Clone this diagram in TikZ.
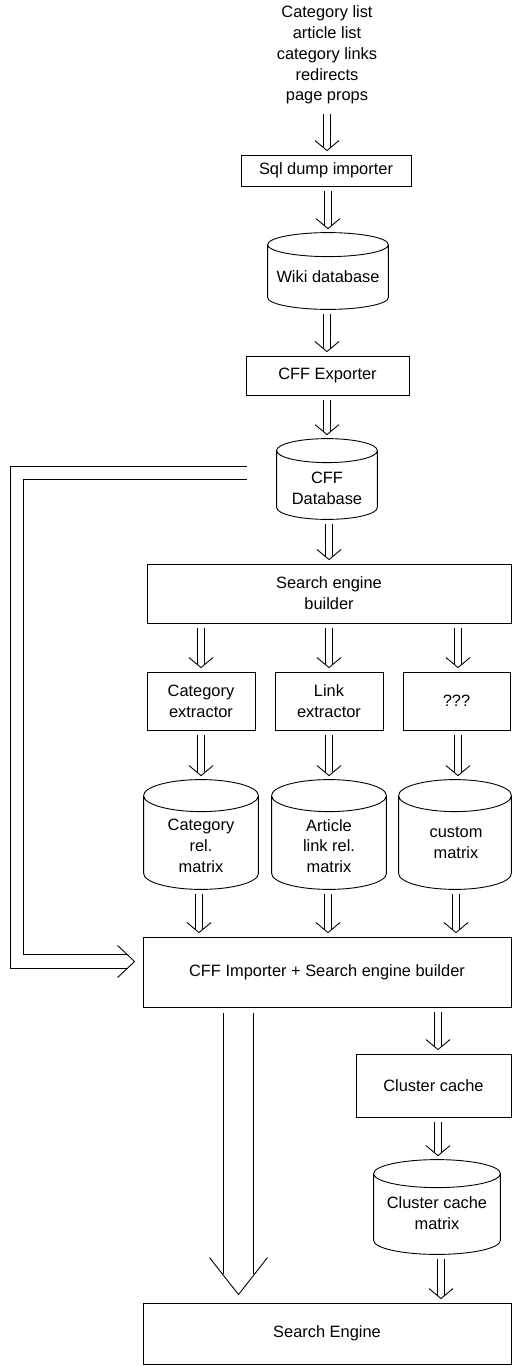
\documentclass[tikz,border=0pt]{standalone}
\usepackage{fontspec}
\setmainfont{Liberation Sans}
\usetikzlibrary{calc}

\newcommand\lbfont{\fontsize{8.2}{10.4}\selectfont}

\tikzset{
  ln/.style={draw=black, line width=0.45pt},
  shaft/.style={ln, double=white, double distance=3.05pt},
  box/.style={ln, rectangle, inner sep=0pt, align=center, font=\lbfont},
  lbl/.style={inner sep=0pt, align=center, font=\lbfont},
  hold/.style={rectangle, inner sep=0pt},
  sz/.style 2 args={minimum width=#1*0.5pt, minimum height=#2*0.5pt},
}

% database drum drawn around node #1, lid half-height #2 (px)
\newcommand\drum[2]{%
  \draw[ln] let \p1=(#1.north west), \p2=(#1.south east),
      \n1={(\x2-\x1)/2}, \n2={#2*0.5pt} in
    (\x1,\y1-\n2) -- (\x1,\y2+\n2)
      arc[start angle=180, end angle=360, x radius={\n1*1pt}, y radius={\n2*1pt}]
      -- (\x2,\y1-\n2)
    (\x1,\y1-\n2)
      arc[start angle=180, end angle=-180, x radius={\n1*1pt}, y radius={\n2*1pt}];
}

% double-shafted downward flow from node #2 to node #3 along x=#4
\newcommand\flow[4][5]{%
  \coordinate (fx) at (#4,0);
  \coordinate (fs) at ($(#2.south -| fx)+(0,-#1)$);
  \coordinate (ft) at ($(#3.north -| fx)+(0,4)$);
  \draw[shaft] (fs) -- ($(ft)+(0,3)$);
  \draw[ln] ($(ft)+(-12,10)$) -- (ft) -- ($(ft)+(12,10)$);
}

\begin{document}
\begin{tikzpicture}[x=0.5pt, y=0.5pt]
\useasboundingbox (0,0) rectangle (512,-1366);

% sources and import chain
\node[lbl] (src) at (327,-55) {Category list\\article list\\category links\\redirects\\page props};
\node[box, sz={170}{31}] (sql) at (326,-170.5) {Sql dump importer};
\node[hold, sz={120}{76}] (wiki) at (328,-271) {};
\node[lbl] (wikit) at (328,-277) {Wiki database};
\node[box, sz={163}{39}] (cffexp) at (327.5,-375.5) {CFF Exporter};
\node[hold, sz={100}{80}] (cffdb) at (327,-479) {};
\node[lbl] (cffdbt) at (327,-488) {CFF\\Database};

% search engine builder and extractors
\node[box, sz={364}{59}] (seb) at (329,-593.5) {Search engine\\builder};
\node[box, sz={108}{58}] (catx) at (201,-701) {Category\\extractor};
\node[box, sz={108}{58}] (linkx) at (329,-701) {Link\\extractor};
\node[box, sz={107}{58}] (unk) at (456.5,-701) {???};

% relation matrices
\node[hold, sz={114}{109}] (catm) at (201,-834.5) {};
\node[lbl] (catmt) at (201,-846) {Category\\rel.\\matrix};
\node[hold, sz={114}{109}] (artm) at (329,-834.5) {};
\node[lbl] (artmt) at (329,-846) {Article\\link rel.\\matrix};
\node[hold, sz={112}{109}] (cusm) at (455,-834.5) {};
\node[lbl] (cusmt) at (456,-843) {custom\\matrix};

% importer, cluster cache and search engine
\node[box, sz={368}{70}] (cffimp) at (327,-972) {CFF Importer + Search engine builder};
\node[box, sz={155}{63}] (clc) at (433.5,-1085.5) {Cluster cache};
\node[hold, sz={126}{94}] (clm) at (437,-1207) {};
\node[lbl] (clmt) at (437,-1213) {Cluster cache\\matrix};
\node[box, sz={368}{61}] (se) at (327,-1333.5) {Search Engine};

% drums
\drum{wiki}{12}
\drum{cffdb}{12}
\drum{catm}{16}
\drum{artm}{16}
\drum{cusm}{16}
\drum{clm}{14}

% flows
\flow[9]{src}{sql}{327}
\flow{sql}{wiki}{328}
\flow{wiki}{cffexp}{327}
\flow{cffexp}{cffdb}{327}
\flow{cffdb}{seb}{329}
\flow{seb}{catx}{201}
\flow{seb}{linkx}{329}
\flow{seb}{unk}{458}
\flow{catx}{catm}{201}
\flow{linkx}{artm}{329}
\flow{unk}{cusm}{458}
\flow{catm}{cffimp}{199}
\flow{artm}{cffimp}{328}
\flow{cusm}{cffimp}{456}
\flow{cffimp}{clc}{438}
\flow{clc}{clm}{438}
\flow{clm}{se}{441}

% wide flow from the importer to the search engine
\coordinate (bigx) at (238.5,0);
\draw[ln, double=white, double distance=14.8pt]
  ($(cffimp.south -| bigx)+(0,-6)$) -- ($(se.north -| bigx)+(0,29)$);
\draw[ln] ($(se.north -| bigx)+(-29,45)$) -- ($(se.north -| bigx)+(0,8)$)
  -- ($(se.north -| bigx)+(29,45)$);

% CFF database fed straight into the importer
\coordinate (fbs) at (247,-473);
\coordinate (fbt) at ($(cffimp.west)+(-8,10.5)$);
\draw[ln, double=white, double distance=6.3pt]
  (fbs) -- (17,-473) |- ($(fbt)+(-7,0)$);
\draw[ln] ($(fbt)+(-17,16)$) -- (fbt) -- ($(fbt)+(-17,-16)$);
\end{tikzpicture}
\end{document}
